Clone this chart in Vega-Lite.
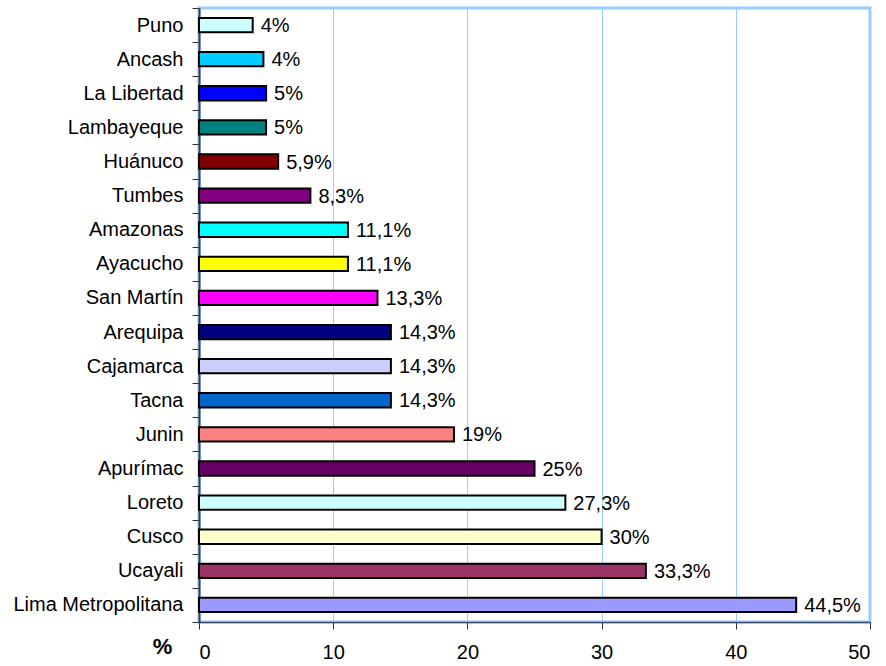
{
  "$schema": "https://vega.github.io/schema/vega-lite/v6.json",
  "width": 671,
  "height": 614,
  "autosize": {"type": "none"},
  "padding": {"left": 199, "top": 8, "right": 16, "bottom": 44},
  "background": "white",
  "config": {
    "font": "Liberation Sans",
    "view": {"stroke": "#99CCFF", "strokeWidth": 3}
  },
  "data": {
    "values": [
      {"region": "Puno", "value": 4, "label": "4%", "color": "#CCFFFF"},
      {"region": "Ancash", "value": 4.8, "label": "4%", "color": "#00CCFF"},
      {"region": "La Libertad", "value": 5, "label": "5%", "color": "#0000FF"},
      {"region": "Lambayeque", "value": 5, "label": "5%", "color": "#008080"},
      {"region": "Huánuco", "value": 5.9, "label": "5,9%", "color": "#800000"},
      {"region": "Tumbes", "value": 8.3, "label": "8,3%", "color": "#800080"},
      {"region": "Amazonas", "value": 11.1, "label": "11,1%", "color": "#00FFFF"},
      {"region": "Ayacucho", "value": 11.1, "label": "11,1%", "color": "#FFFF00"},
      {"region": "San Martín", "value": 13.3, "label": "13,3%", "color": "#FF00FF"},
      {"region": "Arequipa", "value": 14.3, "label": "14,3%", "color": "#000080"},
      {"region": "Cajamarca", "value": 14.3, "label": "14,3%", "color": "#CCCCFF"},
      {"region": "Tacna", "value": 14.3, "label": "14,3%", "color": "#0066CC"},
      {"region": "Junin", "value": 19, "label": "19%", "color": "#FF8080"},
      {"region": "Apurímac", "value": 25, "label": "25%", "color": "#660066"},
      {"region": "Loreto", "value": 27.3, "label": "27,3%", "color": "#CCFFFF"},
      {"region": "Cusco", "value": 30, "label": "30%", "color": "#FFFFCC"},
      {"region": "Ucayali", "value": 33.3, "label": "33,3%", "color": "#993366"},
      {"region": "Lima Metropolitana", "value": 44.5, "label": "44,5%", "color": "#9999FF"}
    ]
  },
  "encoding": {
    "y": {
      "field": "region",
      "type": "nominal",
      "sort": null,
      "scale": {"paddingInner": 0, "paddingOuter": 0},
      "axis": {
        "title": null,
        "tickBand": "extent",
        "tickSize": 7,
        "tickColor": "#333333",
        "domainColor": "#2F3F5F",
        "domainWidth": 2,
        "labelFontSize": 20,
        "labelColor": "black",
        "labelPadding": 9,
        "labelLimit": 300
      }
    },
    "x": {
      "field": "value",
      "type": "quantitative",
      "scale": {"domain": [0, 50], "nice": false},
      "axis": {
        "values": [0, 10, 20, 30, 40, 50],
        "title": "%",
        "titleFontSize": 22,
        "titleFontWeight": "bold",
        "titleColor": "black",
        "titleX": -37,
        "titleY": 24,
        "titleAlign": "center",
        "titleBaseline": "middle",
        "tickSize": 7,
        "tickColor": "#333333",
        "domainColor": "#3F4F6F",
        "domainWidth": 1.5,
        "labelFontSize": 20,
        "labelColor": "black",
        "labelPadding": 13,
        "grid": true,
        "gridColor": "#99CCFF",
        "gridWidth": 1
      }
    }
  },
  "layer": [
    {
      "mark": {"type": "bar", "height": {"band": 0.42}, "stroke": "black", "strokeWidth": 2},
      "encoding": {
        "color": {"field": "color", "type": "nominal", "scale": null, "legend": null}
      }
    },
    {
      "mark": {"type": "text", "align": "left", "baseline": "middle", "dx": 8, "dy": 1, "fontSize": 20, "color": "black"},
      "encoding": {
        "text": {"field": "label"}
      }
    }
  ]
}
